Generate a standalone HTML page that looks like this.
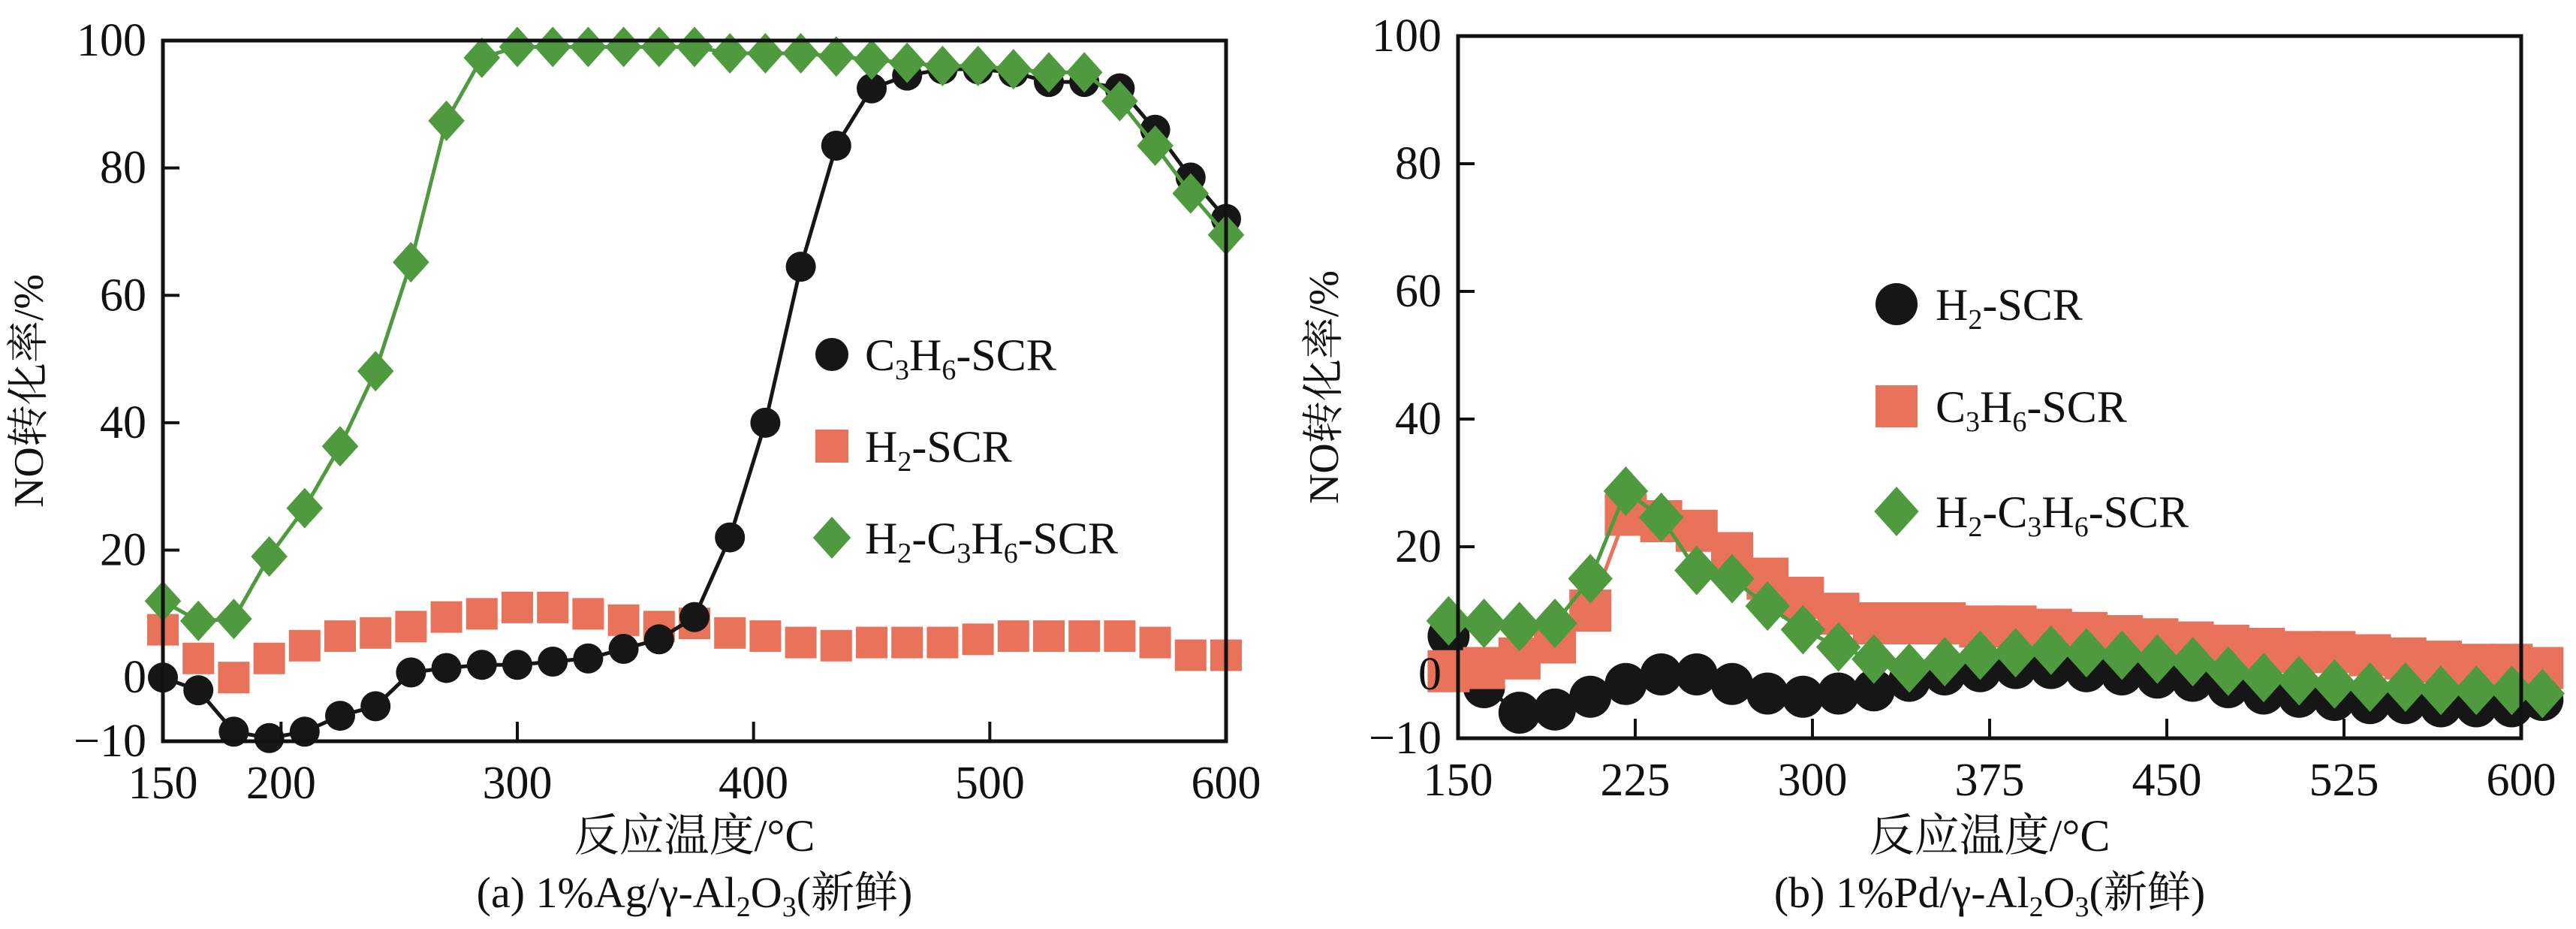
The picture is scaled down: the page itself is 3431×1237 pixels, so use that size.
<!DOCTYPE html>
<html><head><meta charset="utf-8">
<style>
html,body{margin:0;padding:0;background:#fff;}
svg{display:block;}
text{font-family:"Liberation Serif","Noto Serif CJK SC",serif;fill:#111;}
</style></head>
<body>
<svg id="fig" width="3431" height="1237" viewBox="0 0 3431 1237" xmlns="http://www.w3.org/2000/svg"></svg>
<script>
// ---- Panel (a) data ----
const tempsA = [150,165,180,195,210,225,240,255,270,285,300,315,330,345,360,375,390,405,420,435,450,465,480,495,510,525,540,555,570,585,600];
const c3h6A = [0,-2,-8.5,-9.5,-8.5,-6,-4.5,0.8,1.5,2,2,2.5,3,4.5,6,9.5,22,40,64.5,83.5,92.5,94.5,95.5,95.5,95,93.5,93.5,92.5,86,78.5,72];
const h2A = [7.5,3,0,3,5,6.5,7,8,9.5,10,11,11,10,9,8,8.5,7,6.5,5.5,5,5.5,5.5,5.5,6,6.5,6.5,6.5,6.5,5.5,3.5,3.5];
const mixA = [12,8.9,9.2,19,26.6,36.3,48.1,65.2,87.4,97.3,99,99,99,99,99,99,98,98,98,97.5,97,96.5,96,96,95.5,95,95,90.5,83.5,76,69.5];
const xTicksA = [150,200,300,400,500,600];
// ---- Panel (b) data ----
const tempsB = [146,161,176,191,206,221,236,251,266,281,296,311,326,341,356,371,386,401,416,431,446,461,476,491,506,521,536,551,566,581,596,609];
const h2B = [6,-2,-6,-5.5,-3.5,-1.5,0,0,-1.5,-3,-3.5,-3,-2.5,-1,0,0.5,1,1,0.5,0,-0.5,-1,-2,-3,-3.5,-4,-4.5,-4.5,-5,-5,-5,-4];
const c3h6B = [0.5,1,2.5,5,10,25,24,22.5,19,15,12,9.5,8,8,8,7.5,7.5,7,6.5,6,5.5,5,4.5,4,3.5,3.5,3,2.5,2,1.5,1.5,1];
const mixB = [8.4,8,7.5,8,15,28.7,24.6,16.3,15,10.7,7,4.3,2.4,1,2,3,3.4,3.8,3.4,3,2.4,2,0.5,-0.5,-1,-1.5,-2,-2,-2.5,-2.5,-2.5,-3];
const xTicksB = [150,225,300,375,450,525,600];
const yTicks = [-10,0,20,40,60,80,100];

const NS = "http://www.w3.org/2000/svg";
const svg = document.getElementById('fig');
function el(tag, attrs, parent){
  const e = document.createElementNS(NS, tag);
  for (const k in attrs) e.setAttribute(k, attrs[k]);
  (parent||svg).appendChild(e);
  return e;
}
const RED="#e8735a", GREEN="#4f9a3f", BLACK="#161616";

function panel(P){
  const g = el('g', {});
  
  
  const X = t => P.x0 + (t-150)/450*(P.x1-P.x0);
  const Y = v => P.y1 - (v+10)/110*(P.y1-P.y0);
  P.series.forEach(s => {
    const sg = el('g', {}, g);
    
    
    if (s.line) {
      const pts = s.temps.map((t,i)=>X(t)+','+Y(s.vals[i])).join(' ');
      const pl = el('polyline', {points:pts, fill:'none', stroke:s.color, 'stroke-width':5}, sg);
      
      
    }
    s.temps.forEach((t,i) => {
      const cx = X(t), cy = Y(s.vals[i]);
      let m;
      if (s.shape==='circle') m = el('circle', {cx:cx, cy:cy, r:s.size, fill:s.color}, sg);
      else if (s.shape==='square') m = el('rect', {x:cx-s.size, y:cy-s.size, width:2*s.size, height:2*s.size, fill:s.color}, sg);
      else m = el('polygon', {points:`${cx},${cy-s.size} ${cx+s.size*0.9},${cy} ${cx},${cy+s.size} ${cx-s.size*0.9},${cy}`, fill:s.color}, sg);
      
      
    });
  });
  const fr = el('rect', {x:P.x0, y:P.y0, width:P.x1-P.x0, height:P.y1-P.y0, fill:'none', stroke:'#111', 'stroke-width':5}, g);
  
  
  P.xTicks.forEach(t => {
    const x = X(t);
    if (t!==150 && t!==600) {
      const tk = el('line', {x1:x, x2:x, y1:P.y1, y2:P.y1-26, stroke:'#111', 'stroke-width':4}, g);
      
      
    }
    const tx = el('text', {x:x, y:P.y1+76, 'font-size':62, 'text-anchor':'middle'}, g);
    
    
    tx.textContent = t;
  });
  yTicks.forEach(v => {
    const y = Y(v);
    if (v!==-10 && v!==100 && v!==0) {
      const tk = el('line', {x1:P.x0, x2:P.x0+22, y1:y, y2:y, stroke:'#111', 'stroke-width':4}, g);
      
      
    }
    const tx = el('text', {x:P.x0-22, y:y+20, 'font-size':62, 'text-anchor':'end'}, g);
    
    
    tx.textContent = v<0 ? '\u2212'+Math.abs(v) : v;
  });
  const yl = el('text', {x:0, y:0, 'font-size':56, 'text-anchor':'middle', transform:`translate(${P.x0-160},${(P.y0+P.y1)/2}) rotate(-90)`}, g);
  
  
  yl.textContent = 'NO转化率/%';
  const xl = el('text', {x:(P.x0+P.x1)/2, y:1133, 'font-size':60, 'text-anchor':'middle'}, g);
  
  
  xl.textContent = '反应温度/°C';
  const cap = el('text', {x:(P.x0+P.x1)/2, y:1208, 'font-size':58, 'text-anchor':'middle'}, g);
  
  
  cap.innerHTML = P.caption;
  P.legend.forEach((L,i) => {
    const lg = el('g', {}, g);
    
    
    const cx = L.mx, cy = L.y;
    if (L.shape==='circle') el('circle', {cx:cx, cy:cy, r:L.size, fill:L.color}, lg);
    else if (L.shape==='square') el('rect', {x:cx-L.size, y:cy-L.size, width:2*L.size, height:2*L.size, fill:L.color}, lg);
    else el('polygon', {points:`${cx},${cy-L.size} ${cx+L.size*0.9},${cy} ${cx},${cy+L.size} ${cx-L.size*0.9},${cy}`, fill:L.color}, lg);
    const t = el('text', {x:L.tx, y:cy+21, 'font-size':60}, lg);
    t.innerHTML = L.label;
  });
}
const sub = n => `<tspan font-size="38" dy="12">${n}</tspan><tspan dy="-12">`;
const lbl = s => s.replace(/_(\d)/g, (m,d)=> sub(d)) + '</tspan>'.repeat((s.match(/_/g)||[]).length);

panel({
  name:'panel-a-chart', x0:217, x1:1633, y0:54, y1:987,
  xTicks:xTicksA,
  caption:'(a) 1%Ag/γ-Al'+sub(2)+'O</tspan>'+sub(3)+'(新鲜)</tspan>',
  series:[
    {name:'h2-scr-series', temps:tempsA, vals:h2A, color:RED, shape:'square', size:21, line:false},
    {name:'c3h6-scr-series', temps:tempsA, vals:c3h6A, color:BLACK, shape:'circle', size:20, line:true},
    {name:'h2-c3h6-scr-series', temps:tempsA, vals:mixA, color:GREEN, shape:'diamond', size:27, line:true},
  ],
  legend:[
    {mx:1108, y:472, shape:'circle', size:22, color:BLACK, tx:1152, label:lbl('C_3H_6-SCR')},
    {mx:1108, y:594, shape:'square', size:22, color:RED, tx:1152, label:lbl('H_2-SCR')},
    {mx:1108, y:716, shape:'diamond', size:28, color:GREEN, tx:1152, label:lbl('H_2-C_3H_6-SCR')},
  ]
});
panel({
  name:'panel-b-chart', x0:1942, x1:3358, y0:48, y1:983,
  xTicks:xTicksB,
  caption:'(b) 1%Pd/γ-Al'+sub(2)+'O</tspan>'+sub(3)+'(新鲜)</tspan>',
  series:[
    {name:'h2-scr-series', temps:tempsB, vals:h2B, color:BLACK, shape:'circle', size:28, line:true},
    {name:'c3h6-scr-series', temps:tempsB, vals:c3h6B, color:RED, shape:'square', size:28, line:true},
    {name:'h2-c3h6-scr-series', temps:tempsB, vals:mixB, color:GREEN, shape:'diamond', size:33, line:true},
  ],
  legend:[
    {mx:2526, y:405, shape:'circle', size:28, color:BLACK, tx:2578, label:lbl('H_2-SCR')},
    {mx:2526, y:541, shape:'square', size:28, color:RED, tx:2578, label:lbl('C_3H_6-SCR')},
    {mx:2526, y:681, shape:'diamond', size:33, color:GREEN, tx:2578, label:lbl('H_2-C_3H_6-SCR')},
  ]
});
</script>
</body></html>
